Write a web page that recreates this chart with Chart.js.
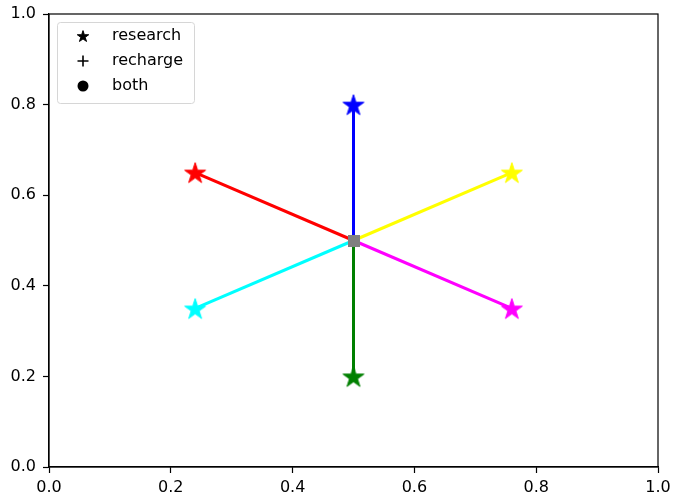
<!DOCTYPE html>
<html><head><meta charset="utf-8">
<script src="https://cdn.jsdelivr.net/npm/chart.js@4"></script>
<style>html,body{margin:0;padding:0;background:#fff}#wrap{width:673px;height:501px}</style>
</head><body><div id="wrap"><canvas id="c" width="673" height="501"></canvas></div>
<script>
const center = {x: 0.5, y: 0.5};
const endX = [0.5, 0.24, 0.76, 0.24, 0.76, 0.5];
const endY = [0.8, 0.65, 0.65, 0.35, 0.35, 0.2];
const colors = ['#0000ff', '#ff0000', '#ffff00', '#00ffff', '#ff00ff', '#008000'];
const tickVals = [0, 0.2, 0.4, 0.6, 0.8, 1.0];
const legendLabels = ['research', 'recharge', 'both'];
const legendMarkers = ['star', 'plus', 'circle'];

function starCanvas(color, r) {
  const s = Math.ceil(r * 2 + 4);
  const cv = document.createElement('canvas');
  cv.width = s; cv.height = s;
  const g = cv.getContext('2d');
  const cx = s / 2, cy = s / 2 + r * 0.1;
  const ri = r * 0.382;
  g.beginPath();
  for (let i = 0; i < 10; i++) {
    const rr = i % 2 === 0 ? r : ri;
    const a = -Math.PI / 2 + i * Math.PI / 5;
    const px = cx + rr * Math.cos(a), py = cy + rr * Math.sin(a);
    if (i === 0) g.moveTo(px, py); else g.lineTo(px, py);
  }
  g.closePath();
  g.fillStyle = color; g.fill();
  g.lineWidth = 1; g.strokeStyle = color; g.stroke();
  return cv;
}
function squareCanvas(color, size) {
  const cv = document.createElement('canvas');
  cv.width = size; cv.height = size;
  const g = cv.getContext('2d');
  g.fillStyle = color; g.fillRect(0, 0, size, size);
  return cv;
}

const datasets = [];
endX.forEach((x, i) => {
  datasets.push({
    data: [{x: center.x, y: center.y}, {x: x, y: endY[i]}],
    borderColor: colors[i],
    borderWidth: 3,
    pointStyle: [false, starCanvas(colors[i], 11)],
    pointRadius: [0, 11],
    pointHoverRadius: [0, 11],
    showLine: true,
    fill: false,
    order: 2
  });
});
datasets.push({
  data: [{x: center.x, y: center.y}],
  pointStyle: squareCanvas('#808080', 12),
  pointRadius: 6,
  showLine: false,
  order: 0
});

const FONT = 'DejaVu Sans';

const frame = {
  id: 'frame',
  afterDatasetsDraw(chart) {
    const {ctx, chartArea: a} = chart;
    ctx.save();
    ctx.strokeStyle = '#000'; ctx.lineWidth = 1.2;
    ctx.strokeRect(a.left, a.top, a.right - a.left, a.bottom - a.top);
    // legend
    const lx = a.left + 8, ly = a.top + 8, lw = 137, lh = 81;
    ctx.beginPath();
    ctx.roundRect(lx + 0.5, ly + 0.5, lw, lh, 3);
    ctx.fillStyle = 'rgba(255,255,255,0.8)'; ctx.fill();
    ctx.strokeStyle = '#d6d6d6'; ctx.lineWidth = 1; ctx.stroke();
    ctx.font = '16px "' + FONT + '"';
    ctx.textBaseline = 'middle';
    ctx.fillStyle = '#000';
    legendLabels.forEach((lab, i) => {
      const y = ly + 14 + i * 25;
      const mx = lx + 26;
      const m = legendMarkers[i];
      ctx.fillStyle = '#000'; ctx.strokeStyle = '#000';
      if (m === 'star') {
        ctx.drawImage(starCanvas('#000', 6), mx - 8, y - 8, 16, 16);
      } else if (m === 'plus') {
        ctx.lineWidth = 1.6;
        ctx.beginPath();
        ctx.moveTo(mx - 5.5, y); ctx.lineTo(mx + 5.5, y);
        ctx.moveTo(mx, y - 5.5); ctx.lineTo(mx, y + 5.5);
        ctx.stroke();
      } else {
        ctx.beginPath(); ctx.arc(mx, y, 5.5, 0, Math.PI * 2); ctx.fill();
      }
      ctx.fillStyle = '#000';
      ctx.fillText(lab, lx + 55, y);
    });
    ctx.restore();
  }
};

const tickOpts = {
  color: '#000',
  font: {family: FONT, size: 16},
  callback: v => Number(v).toFixed(1)
};

new Chart(document.getElementById('c'), {
  type: 'scatter',
  data: {datasets},
  options: {
    responsive: false,
    animation: false,
    events: [],
    layout: {padding: {left: 0, right: 15, top: 12, bottom: 0}},
    plugins: {legend: {display: false}, tooltip: {enabled: false}},
    scales: {
      x: {
        type: 'linear', min: 0, max: 1,
        afterBuildTicks: s => { s.ticks = tickVals.map(v => ({value: v})); },
        afterFit: s => { s.height = 34; s.paddingLeft = 0; s.paddingRight = 0; },
        grid: {drawOnChartArea: false, drawTicks: true, tickLength: 6, color: '#000', tickWidth: 1.2},
        border: {display: true, color: '#000', width: 1.2},
        ticks: Object.assign({padding: 5, maxRotation: 0}, tickOpts)
      },
      y: {
        type: 'linear', min: 0, max: 1,
        afterBuildTicks: s => { s.ticks = tickVals.map(v => ({value: v})); },
        afterFit: s => { s.width = 49; s.paddingTop = 0; s.paddingBottom = 0; },
        grid: {drawOnChartArea: false, drawTicks: true, tickLength: 6, color: '#000', tickWidth: 1.2},
        border: {display: true, color: '#000', width: 1.2},
        ticks: Object.assign({padding: 7}, tickOpts)
      }
    }
  },
  plugins: [frame]
});
</script>
</body></html>
